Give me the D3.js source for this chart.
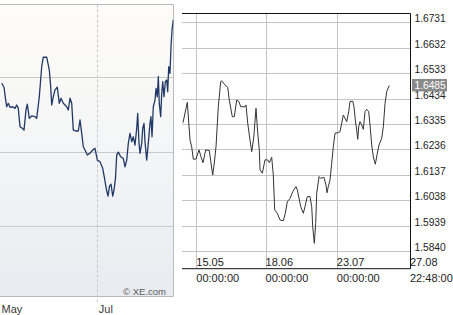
<!DOCTYPE html>
<html><head><meta charset="utf-8">
<script src="https://cdn.jsdelivr.net/npm/d3@7"></script>
<style>body{margin:0;background:#fff;} svg{display:block;}</style>
</head><body>
<svg id="c" width="453" height="315"></svg>
<script>
// ---------- Left panel (XE.com, 3 months) ----------
const leftStart = "2009-05-01T00:00";
const leftTickDates = ["2009-05-01T00:00", "2009-07-01T00:00"];
const leftTickLabels = ["May", "Jul"];
const leftGrid = [1.65, 1.60, 1.55];
const leftDays = [1.07,2.51,3.57,4.20,5.20,6.27,7.96,9.40,10.47,11.47,12.54,13.98,15.05,16.30,17.12,18.37,19.87,21.94,23.01,24.64,26.14,27.15,29.28,30.91,31.79,32.41,33.42,34.48,35.92,37.18,38.24,39.69,41.82,42.82,43.89,44.95,45.96,47.65,49.09,50.16,51.22,52.23,53.29,54.73,56.43,58.12,59.56,61.00,62.70,64.39,65.52,66.77,67.71,68.65,69.59,70.66,71.47,72.41,73.17,74.17,75.67,77.30,78.37,79.44,80.44,81.50,82.57,83.57,84.64,85.71,86.33,87.15,87.77,88.84,89.47,90.28,90.91,91.97,92.98,94.04,94.67,95.30,96.11,97.18,97.81,98.62,99.25,99.87,100.75,101.38,102.01,102.82,103.64,104.51,105.14,105.77,106.58,107.21,107.84,108.65];
const leftValues = [1.6460,1.6433,1.6347,1.6302,1.6325,1.6298,1.6302,1.6291,1.6314,1.6291,1.6168,1.6157,1.6145,1.6280,1.6320,1.6224,1.6240,1.6235,1.6224,1.6369,1.6571,1.6635,1.6635,1.6549,1.6437,1.6314,1.6369,1.6415,1.6433,1.6325,1.6359,1.6325,1.6302,1.6280,1.6359,1.6325,1.6145,1.6139,1.6139,1.6213,1.6123,1.6033,1.6011,1.5977,1.5990,1.6011,1.6022,1.5943,1.5932,1.5888,1.5822,1.5742,1.5701,1.5768,1.5782,1.5701,1.5742,1.5822,1.5977,1.5997,1.5966,1.5955,1.5898,1.5943,1.6056,1.6123,1.6067,1.6100,1.6044,1.6157,1.6258,1.6056,1.5989,1.6056,1.6157,1.6190,1.6067,1.5943,1.6056,1.6190,1.6235,1.6100,1.6302,1.6347,1.6426,1.6369,1.6504,1.6325,1.6235,1.6392,1.6470,1.6369,1.6470,1.6482,1.6403,1.6571,1.6527,1.6706,1.6818,1.6886];

// ---------- Right panel ----------
const rightStart = "2009-05-15T00:00";
const rightXTicks = ["2009-05-15T00:00", "2009-06-18T00:00", "2009-07-23T00:00", "2009-08-27T22:48"];
const rightXLabels = [["15.05","00:00:00"],["18.06","00:00:00"],["23.07","00:00:00"],["27.08","22:48:00"]];
const rightYTicks = [1.6731,1.6632,1.6533,1.6434,1.6335,1.6236,1.6137,1.6038,1.5939,1.5840];
const rightDays = [-6.53,-4.42,-3.09,-2.26,-1.47,-0.15,1.33,2.31,3.29,4.62,6.39,7.22,8.06,8.84,9.68,10.81,11.98,12.48,14.10,15.42,16.21,17.68,18.66,19.84,20.97,21.81,23.92,24.41,25.25,26.38,27.21,28.19,29.32,30.16,30.94,31.29,32.42,33.74,35.07,35.85,37.03,37.82,38.51,39.78,41.11,42.73,43.71,44.70,46.02,47.35,48.97,49.61,51.28,52.55,53.39,54.52,55.84,56.68,57.17,57.96,58.64,59.14,60.27,61.10,62.72,63.70,64.19,64.83,65.67,66.50,67.29,68.12,69.74,70.58,71.41,72.20,73.03,73.87,74.85,75.49,76.82,77.46,78.09,78.78,79.27,79.76,80.40,81.24,82.02,82.86,83.69,84.68,85.32,86.15,86.94,87.92,88.90,89.73,91.06,91.85,92.68,93.52,94.79];
const rightValues = [1.6340,1.6419,1.6272,1.6246,1.6198,1.6198,1.6234,1.6207,1.6184,1.6234,1.6231,1.6183,1.6136,1.6183,1.6246,1.6402,1.6500,1.6503,1.6487,1.6478,1.6428,1.6363,1.6363,1.6428,1.6422,1.6402,1.6402,1.6409,1.6338,1.6272,1.6227,1.6280,1.6396,1.6300,1.6234,1.6156,1.6143,1.6195,1.6195,1.6184,1.6205,1.6136,1.6000,1.5987,1.5961,1.5958,1.5987,1.6032,1.6045,1.6071,1.6091,1.6078,1.6013,1.5987,1.6013,1.6052,1.6052,1.6013,1.5935,1.5870,1.5948,1.6065,1.6130,1.6123,1.6127,1.6097,1.6067,1.6091,1.6117,1.6182,1.6246,1.6299,1.6301,1.6305,1.6338,1.6370,1.6357,1.6344,1.6383,1.6422,1.6424,1.6402,1.6350,1.6311,1.6275,1.6324,1.6344,1.6331,1.6314,1.6383,1.6392,1.6383,1.6331,1.6253,1.6207,1.6178,1.6221,1.6253,1.6279,1.6324,1.6415,1.6461,1.6485];
const lastValue = 1.6485;

const DAY = 86400000;
const svg = d3.select("#c");
const font = "'Liberation Sans', Arial, sans-serif";

// ===== Left panel =====
const L = {x0: 0, x1: 173.5, y0: 4.5, y1: 296.5};
const defs = svg.append("defs");
const grad = defs.append("linearGradient").attr("id","lg").attr("x1",0).attr("y1",0).attr("x2",0).attr("y2",1);
grad.append("stop").attr("offset","0%").attr("stop-color","#fdfcf8");
grad.append("stop").attr("offset","55%").attr("stop-color","#f3f4f6");
grad.append("stop").attr("offset","100%").attr("stop-color","#e8ebf0");
defs.append("clipPath").attr("id","lclip").append("rect")
  .attr("x",L.x0).attr("y",L.y0).attr("width",L.x1-L.x0).attr("height",L.y1-L.y0);

const lx = d3.scaleTime().domain(leftTickDates.map(d=>new Date(d))).range([0, 97.3]);
const ly = d3.scaleLinear().domain([1.55, 1.65]).range([226, 77.3]);
const lStart = new Date(leftStart).getTime();

svg.append("rect").attr("x",L.x0).attr("y",L.y0).attr("width",L.x1-L.x0).attr("height",L.y1-L.y0)
  .attr("fill","url(#lg)");
svg.append("g").selectAll("line").data(leftGrid).join("line")
  .attr("x1",L.x0).attr("x2",L.x1).attr("y1",d=>Math.round(ly(d))+0.5).attr("y2",d=>Math.round(ly(d))+0.5)
  .attr("stroke","#c9cacc").attr("stroke-width",1);
svg.append("line").attr("x1",Math.round(lx(new Date(leftTickDates[1])))+0.5).attr("x2",Math.round(lx(new Date(leftTickDates[1])))+0.5)
  .attr("y1",L.y0).attr("y2",302).attr("stroke","#c8c8cc").attr("stroke-dasharray","3,2");
// frame
svg.append("path").attr("d",`M${L.x0},${L.y0}H${L.x1}V${L.y1}H${L.x0}`)
  .attr("fill","none").attr("stroke","#b9babd").attr("stroke-width",1);

const lline = d3.line().x(d=>lx(new Date(lStart + d[0]*DAY))).y(d=>ly(d[1]));
svg.append("path").datum(d3.zip(leftDays, leftValues)).attr("d", lline)
  .attr("clip-path","url(#lclip)")
  .attr("fill","none").attr("stroke","#213866").attr("stroke-width",1.3).attr("stroke-linejoin","round");

const lxAxis = svg.append("g").attr("transform","translate(0,313)")
  .call(d3.axisBottom(lx).tickValues(leftTickDates.map(d=>new Date(d))).tickSize(0).tickPadding(0)
    .tickFormat((d,i)=>leftTickLabels[i]));
lxAxis.select(".domain").remove();
lxAxis.selectAll("text").attr("text-anchor","start").attr("y",0).attr("dy",0).attr("dx",1)
  .attr("font-family",font).attr("font-size",11).attr("fill","#3a3a3a");
svg.append("text").attr("x",166).attr("y",295).attr("text-anchor","end")
  .attr("font-family",font).attr("font-size",9.5).attr("fill","#5a5a5a").text("\u00A9 XE.com");

// ===== Right panel =====
const R = {x0: 182, x1: 410, y0: 13, y1: 268.7};
const rStart = new Date(rightStart).getTime();
const rx = d3.scaleTime().domain([new Date(rightXTicks[0]), new Date(rightXTicks[3])]).range([196.3, 410]);
const ry = d3.scaleLinear().domain([1.5840, 1.6731]).range([251, 22.3]);

// horizontal grid
svg.append("g").selectAll("line").data(rightYTicks).join("line")
  .attr("x1",R.x0).attr("x2",R.x1)
  .attr("y1",d=>Math.round(ry(d))+0.5).attr("y2",d=>Math.round(ry(d))+0.5)
  .attr("stroke","#c4c4c4");
// vertical grid
svg.append("g").selectAll("line").data(rightXTicks.slice(0,3)).join("line")
  .attr("x1",d=>Math.round(rx(new Date(d)))+0.5).attr("x2",d=>Math.round(rx(new Date(d)))+0.5)
  .attr("y1",R.y0).attr("y2",R.y1).attr("stroke","#c4c4c4");
// frame
svg.append("path").attr("d",`M${R.x0},${R.y0+0.5}H${R.x1+0.5}V${R.y1}H${R.x0}`)
  .attr("fill","none").attr("stroke","#111").attr("stroke-width",1);

const rline = d3.line().x(d=>rx(new Date(rStart + d[0]*DAY))).y(d=>ry(d[1]));
svg.append("path").datum(d3.zip(rightDays, rightValues)).attr("d", rline)
  .attr("fill","none").attr("stroke","#333").attr("stroke-width",1);

// y labels
const yAx = svg.append("g").attr("transform",`translate(${R.x1},0)`)
  .call(d3.axisRight(ry).tickValues(rightYTicks).tickSize(0).tickPadding(4.5).tickFormat(d3.format(".4f")));
yAx.select(".domain").remove();
yAx.selectAll("text").attr("dy",0).attr("y",-0.5)
  .attr("font-family",font).attr("font-size",10.2).attr("fill","#222");

// x labels
const xAx = svg.append("g").attr("transform","translate(0,266)")
  .call(d3.axisBottom(rx).tickValues(rightXTicks.map(d=>new Date(d))).tickSize(0).tickPadding(0)
    .tickFormat((d,i)=>rightXLabels[i][0]));
xAx.select(".domain").remove();
xAx.selectAll(".tick text").attr("text-anchor","start").attr("y",0).attr("dy",0).attr("dx",-0.5)
  .attr("font-family",font).attr("font-size",11).attr("fill","#222");
xAx.selectAll(".tick").append("text").attr("x",-0.5).attr("y",16).attr("text-anchor","start")
  .attr("font-family",font).attr("font-size",11).attr("fill","#222")
  .text((d,i)=>rightXLabels[i][1]);

// last value highlight
const ly0 = ry(lastValue);
svg.append("rect").attr("x",412).attr("y",ly0-6.5).attr("width",35).attr("height",12.5).attr("fill","#8a8a8a");
svg.append("text").attr("x",414.5).attr("y",ly0+3.8).attr("font-family",font).attr("font-size",10.2)
  .attr("fill","#fff").text(d3.format(".4f")(lastValue));
</script>
</body></html>
